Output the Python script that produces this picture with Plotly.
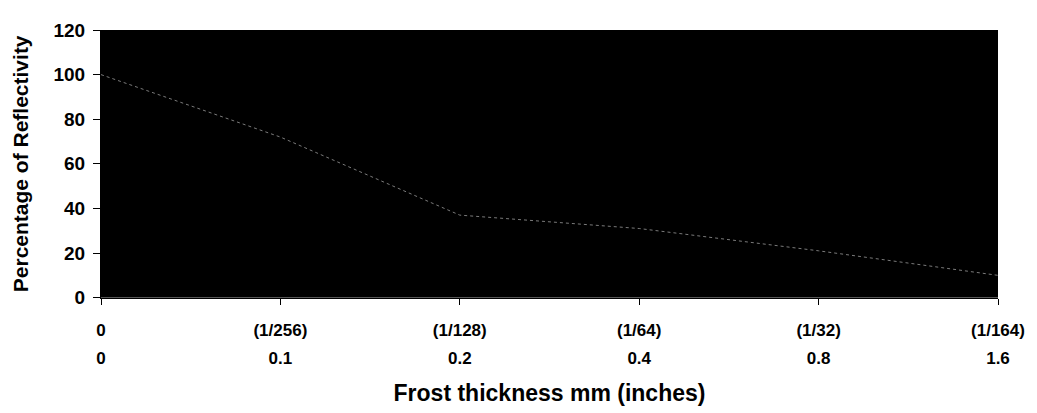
import plotly.graph_objects as go

# -- Data --
thickness_mm = ["0", "0.1", "0.2", "0.4", "0.8", "1.6"]
thickness_in = ["0", "(1/256)", "(1/128)", "(1/64)", "(1/32)", "(1/164)"]
reflectivity = [100, 72, 37, 31, 21, 10]

BOLD = dict(family="Liberation Sans, Arial, sans-serif", color="black", weight="bold")

# categories sit at evenly spaced positions, first one on the y axis
positions = list(range(len(thickness_mm)))

fig = go.Figure()

fig.add_trace(go.Scatter(
    x=positions, y=reflectivity,
    mode="lines",
    line=dict(color="#7a7a7a", width=1, dash="dot"),
    cliponaxis=False,
    showlegend=False,
    hovertemplate="%{y}%<extra></extra>",
))
# same series on the second (mm) axis so that axis gets drawn; kept invisible
fig.add_trace(go.Scatter(
    x=positions, y=reflectivity, xaxis="x2",
    mode="markers", marker=dict(opacity=0),
    showlegend=False, hoverinfo="skip",
))

fig.update_layout(
    width=1029, height=405,
    margin=dict(l=92, r=35, t=13, b=65),
    paper_bgcolor="white",
    plot_bgcolor="black",
    font=dict(**BOLD, size=18),
    showlegend=False,
    xaxis=dict(
        range=[0, len(positions) - 1],
        tickvals=positions, ticktext=thickness_in,
        tickfont=dict(**BOLD, size=17),
        ticks="outside", ticklen=6, tickcolor="black",
        ticklabelstandoff=11,
        showline=True, linecolor="black", linewidth=1,
        showgrid=False, zeroline=False,
        anchor="y",
    ),
    xaxis2=dict(
        range=[0, len(positions) - 1],
        tickvals=positions, ticktext=thickness_mm,
        tickfont=dict(**BOLD, size=17),
        overlaying="x",
        anchor="free", position=0, side="bottom",
        ticks="", showline=False, showgrid=False, zeroline=False,
        title=dict(text="Frost thickness mm (inches)", font=dict(**BOLD, size=23), standoff=17),
    ),
    yaxis=dict(
        domain=[0.153, 1],
        range=[0, 120], dtick=20,
        tickfont=dict(**BOLD, size=19),
        ticks="outside", ticklen=7, tickcolor="black",
        ticklabelstandoff=4,
        showline=True, linecolor="black", linewidth=1,
        showgrid=False, zeroline=False,
        title=dict(text="Percentage of Reflectivity", font=dict(**BOLD, size=21), standoff=19),
    ),
)

fig.write_html("out.html")
